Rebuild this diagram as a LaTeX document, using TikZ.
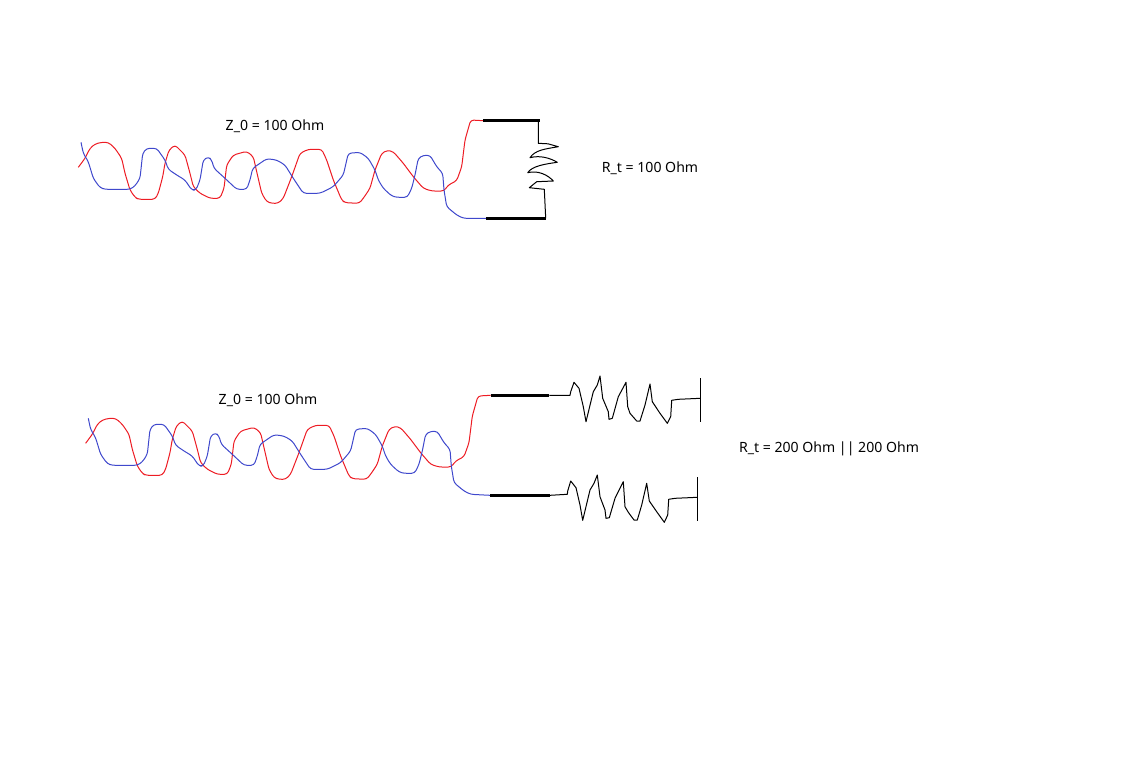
\documentclass[tikz,border=0pt]{standalone}
\usepackage{fontspec}
\setmainfont{Noto Sans}

\newcommand{\redtwist}{(78.3,167.3) -- (85,158.3) -- (90,148.3) -- (95,144) -- (101.7,142.3) -- (108.3,142.3) -- (115,148.3) -- (121.7,158.3) -- (125,173.3) -- (130,190) -- (135,197.3) -- (138.3,199.3) -- (155,199.3) -- (158.3,193.3) -- (162.7,176.7) -- (165,163.3) -- (169,150) -- (175,145) -- (185,155) -- (190,173.3) -- (193.3,186.7) -- (200,193.3) -- (210,198.3) -- (220,198.3) -- (224,188.3) -- (226.7,165) -- (233.3,155) -- (246.7,151.3) -- (253.3,156.7) -- (256.7,171.7) -- (261.7,193.3) -- (266.7,201.7) -- (271.7,203.3) -- (278.3,203.3) -- (283.3,198.3) -- (291.7,176.7) -- (300,153.3) -- (308.3,149.3) -- (321.7,149.3) -- (326.7,160) -- (333.3,180) -- (341.7,200) -- (345,202.7) -- (359.3,203.3) -- (363.3,198.3) -- (370,188.3) -- (375,170) -- (381.7,153.3) -- (387.3,150.3) -- (393.3,151.7) -- (403.3,163.3) -- (413.3,176.7) -- (423.3,188.3) -- (431.7,191) -- (444,191) -- (448.3,185) -- (456.7,180.7) -- (461.7,166.7) -- (465,140) -- (470.7,120)}
\newcommand{\bluetwist}{(81,142.3) -- (83.3,153.3) -- (88.3,161.7) -- (93.3,178.3) -- (100,187.7) -- (105,189.3) -- (130,189.3) -- (135,186) -- (140,178.3) -- (142.7,153.3) -- (146.7,148.3) -- (156.7,148.3) -- (165,160) -- (168.3,169.3) -- (176.7,175) -- (185,180) -- (191.7,190) -- (196,190) -- (200,180) -- (203.3,160) -- (208.3,156.7) -- (211.7,160) -- (214,168.3) -- (225,178.3) -- (236.7,189.3) -- (246.7,189.3) -- (250,180) -- (252.7,168.3) -- (260,163.3) -- (266.7,158.7) -- (276.7,160) -- (285,165) -- (293.3,178.3) -- (303.3,193.3) -- (320,193.3) -- (333.3,186.7) -- (343.3,175) -- (348.3,153.3) -- (360,152.3) -- (368.3,158.3) -- (375,170) -- (378.3,180) -- (383.3,188.3) -- (391.7,196) -- (396.7,197.3) -- (407.3,197.3) -- (411.7,188.3) -- (415,175) -- (418.3,158.3) -- (423.3,155.3) -- (430,155.3) -- (436.7,166.7) -- (442.7,173.3) -- (444,190) -- (446.7,206.7) -- (456.7,215) -- (463.3,218.3)}

\definecolor{paintred}{RGB}{237,28,36}
\definecolor{paintblue}{RGB}{63,72,204}

\begin{document}
\begin{tikzpicture}[x=1pt, y=-1pt, line join=round,
    redwire/.style = {draw=paintred, line width=1pt, rounded corners=3pt},
    bluewire/.style = {draw=paintblue, line width=1pt, rounded corners=3pt},
    lead/.style = {draw=black, line width=3pt},
    res/.style = {draw=black, line width=1pt},
    label/.style = {font=\fontsize{14.1}{16}\selectfont, text=black, inner sep=0pt}]
    \useasboundingbox (0,0) rectangle (1148,764);
    % Nodes

    \node[label] (z1) at (275,126.5) {Z\_0 = 100 Ohm};
    \node[label] (r1) at (650,168.5) {R\_t = 100 Ohm};
    \node[label] (z2) at (268,400.5) {Z\_0 = 100 Ohm};
    \node[label] (r2) at (829,448.5) {R\_t = 200 Ohm || 200 Ohm};

    \coordinate (a1) at (483.3,120.7);
    \coordinate (a2) at (540,120.7);
    \coordinate (b1) at (486,218.3);
    \coordinate (b2) at (545.7,218.3);

    \coordinate (c1) at (490.7,395.3);
    \coordinate (c2) at (549.3,395.3);
    \coordinate (d1) at (490,495.3);
    \coordinate (d2) at (550,495.3);

    \coordinate (e1) at (700.3,378.3);
    \coordinate (e2) at (700.3,421.7);
    \coordinate (e3) at (700.3,398.3);
    \coordinate (f1) at (697.3,477.3);
    \coordinate (f2) at (697.3,520.7);
    \coordinate (f3) at (697.3,497.3);
    % Edges
    \draw[redwire] \redtwist -- (a1);
    \draw[bluewire] \bluetwist -- (b1);
    \draw[lead] (a1) -- (a2);
    \draw[lead] (b1) -- (b2);
    \draw[res] (538.3,120.7) -- (538.3,143.3) -- (548,143.8) -- (558.3,146.7) .. controls (545,149) and (535,150) .. (530,157.7) .. controls (540,155) and (550,158) .. (557.3,162.3) .. controls (545,164) and (532,166) .. (527.7,172.7) .. controls (538,170) and (548,175) .. (553.3,181) -- (536.7,181.7) -- (529.3,187.7) -- (544.3,189.3) -- (b2);

    \draw[redwire, shift={(7.3,276)}] \redtwist -- (c1);
    \draw[bluewire, shift={(7.3,276)}] \bluetwist -- (d1);
    \draw[lead] (c1) -- (c2);
    \draw[lead] (d1) -- (d2);
    \draw[res] (c2) -- (570,395.3) -- (570.7,391.7) -- (574,382.3) -- (579,388.3) -- (583.3,406.7) -- (586,421.7) -- (593.3,391.7) -- (597.3,385) -- (600,376) -- (602.7,398.3) -- (608.3,411.7) -- (609,419.3) -- (612.3,418.3) -- (618.3,396.7) -- (626,382.3) -- (627.7,406.7) -- (630,413.3) -- (636.7,421) -- (640,421) -- (645,405) -- (650,384) -- (652.3,401.7) -- (660,413.3) -- (667.3,423.3) -- (670.7,416.7) -- (671.7,400.3) -- (678.3,399.3) -- (e3);
    \draw[res] (e1) -- (e2);
    \draw[res] (d2) -- (567.3,494.3) -- (567.7,491) -- (570.7,481) -- (576,487.7) -- (580,505) -- (582.7,520.3) -- (590,490) -- (594,483.3) -- (597.3,475) -- (600,496.7) -- (605,510) -- (606,518.3) -- (609.3,517.7) -- (615,498.3) -- (623.3,481.7) -- (625,506.7) -- (628.3,512.3) -- (634,520) -- (637.3,520) -- (641.7,505) -- (646.7,483.3) -- (649.3,501) -- (656.7,511.7) -- (664.3,522.3) -- (667.7,515) -- (668.7,499.3) -- (675,498.3) -- (f3);
    \draw[res] (f1) -- (f2);

\end{tikzpicture}
\end{document}
